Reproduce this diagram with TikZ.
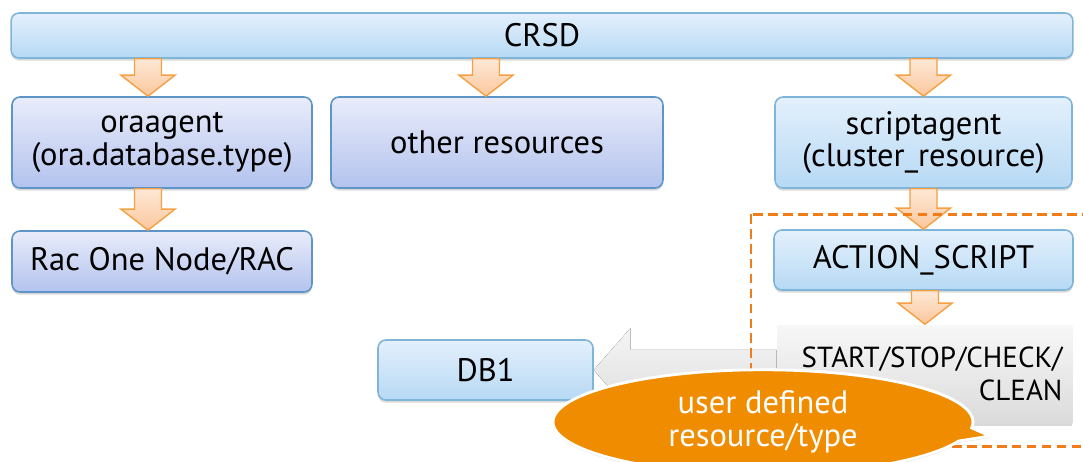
\documentclass[tikz,border=0pt]{standalone}
\usepackage{fontspec}
\setmainfont{PT Sans}
\usetikzlibrary{arrows.meta, calc, positioning, shapes.callouts, shadows, backgrounds}

\definecolor{bluetop}{HTML}{E4F0FC}
\definecolor{bluebot}{HTML}{B6D9F4}
\definecolor{blueline}{HTML}{7FB5D8}
\definecolor{lavtop}{HTML}{E9ECFA}
\definecolor{lavbot}{HTML}{B3C3EE}
\definecolor{lavline}{HTML}{5D95C9}
\definecolor{flowtop}{HTML}{FDE8D6}
\definecolor{flowbot}{HTML}{FBC79C}
\definecolor{flowline}{HTML}{F4A043}
\definecolor{dashorange}{HTML}{F07D1A}
\definecolor{noteorange}{HTML}{EF8C00}

\tikzset{
  box/.style={rounded corners=4.5pt, line width=0.9pt, align=center,
    font=\fontsize{18.5}{18.5}\selectfont,
    drop shadow={shadow xshift=0pt, shadow yshift=-1.5pt, opacity=.3}},
  bluebox/.style={box, draw=blueline, top color=bluetop, bottom color=bluebot},
  lavbox/.style={box, draw=lavline, top color=lavtop, bottom color=lavbot},
  graybox/.style={box, rounded corners=0pt, top color=gray!6, bottom color=gray!28,
    font=\fontsize{16.5}{18.5}\selectfont, inner xsep=0.2cm, text width=5.5cm},
  flow/.style={draw=flowline, line width=0.8pt, top color=flowtop, bottom color=flowbot},
  dashframe/.style={draw=dashorange, line width=1.7pt, dash pattern=on 5.5pt off 3pt},
  note/.style={ellipse callout, fill=noteorange, draw=white, line width=1.6pt,
    text=white, align=center, font=\fontsize{18.5}{18.5}\selectfont,
    drop shadow={shadow xshift=0pt, shadow yshift=-1pt, opacity=.3}}
}

% block arrow from the bottom of one box to the top of the next
\newcommand{\flowarrow}[3][0cm]{%
  \draw[flow] let \p1=($(#3.north)+(#1,0)$), \p2=(#2.south) in
    (\x1-7.7pt,\y2) -- (\x1-7.7pt,\y1+12pt) -- (\x1-15.4pt,\y1+12pt) -- (\x1,\y1)
    -- (\x1+15.4pt,\y1+12pt) -- (\x1+7.7pt,\y1+12pt) -- (\x1+7.7pt,\y2) -- cycle;}

\begin{document}
\begin{tikzpicture}[x=0.02cm, y=-0.02cm]
\useasboundingbox (0,0) rectangle (1083,461);

\node[bluebox, minimum width=21.24cm, minimum height=0.9cm] at (542,35.5) (crsd) {CRSD};
\node[lavbox, minimum width=6cm, minimum height=1.82cm] at (162,142.5) (ora) {oraagent\\(ora.database.type)};
\node[lavbox, minimum width=6.64cm, minimum height=1.82cm] at (497,142.5) (other) {other resources};
\node[bluebox, minimum width=5.94cm, minimum height=1.82cm] at (923.5,142.5) (script) {scriptagent\\(cluster\_resource)};
\node[lavbox, minimum width=6cm, minimum height=1.22cm] at (162,261.5) (rac) {Rac One Node/RAC};
\node[bluebox, minimum width=5.98cm, minimum height=1.2cm] at (923.5,260) (action) {ACTION\_SCRIPT};
\node[graybox, minimum height=1.96cm, align=right] at (925,374) (cmds) {START/STOP/CHECK/\\CLEAN};
\node[bluebox, minimum width=4.3cm, minimum height=1.2cm] at (485.5,370) (db) {DB1};

\flowarrow[-0.28cm]{crsd}{ora}
\flowarrow[-0.22cm]{crsd}{other}
\flowarrow{crsd}{script}
\flowarrow[-0.28cm]{ora}{rac}
\flowarrow{script}{action}
\flowarrow{action}{cmds}

% grey arrow back to DB1
\begin{scope}[on background layer]
\fill[top color=gray!8, bottom color=gray!26] let \p1=(db.east), \p2=(cmds.west) in
  (\x1,\y1) -- (\x1+21pt,\y1+24pt) -- (\x1+21pt,\y1+11.4pt) -- (\x2,\y1+11.4pt)
  -- (\x2,\y1-11.4pt) -- (\x1+21pt,\y1-11.4pt) -- (\x1+21pt,\y1-24pt) -- cycle;
\end{scope}

\draw[dashframe] (751,214) rectangle (1100,446);

\node[note, minimum width=8.4cm, minimum height=2cm, callout absolute pointer={(990,436)}] at (763,422) (usr) {user defined\\resource/type};
\end{tikzpicture}
\end{document}
